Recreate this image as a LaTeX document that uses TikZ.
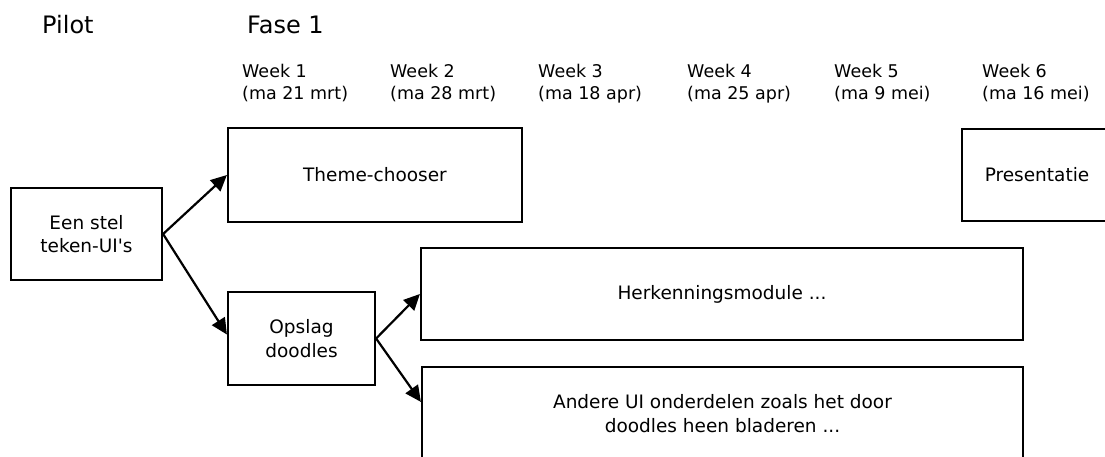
\documentclass[tikz,border=0pt]{standalone}
\usepackage{fontspec}
\setmainfont{DejaVu Sans}
\usetikzlibrary{arrows.meta}
\tikzset{
  box/.style={draw, line width=2.2pt, rectangle, inner sep=0pt, align=center,
    font=\fontsize{18.5}{23.3}\selectfont},
  arr/.style={line width=2.2pt, -{Triangle[length=16pt,width=15pt]}},
  week/.style={anchor=north west, inner sep=0pt, align=left,
    font=\fontsize{17.5}{22}\selectfont},
  head/.style={anchor=base west, inner sep=0pt, font=\fontsize{24}{28}\selectfont}
}
\begin{document}
\begin{tikzpicture}[x=1pt,y=-1pt]
\useasboundingbox (0,0) rectangle (1105,456);
\clip (0,0) rectangle (1105,456);
\node[head] (pilot) at (42,33) {Pilot};
\node[head] (fase) at (247,33) {Fase 1};
\node[week] (w1) at (242,63.5) {Week 1\\(ma 21 mrt)};
\node[week] (w2) at (390,63.5) {Week 2\\(ma 28 mrt)};
\node[week] (w3) at (538,63.5) {Week 3\\(ma 18 apr)};
\node[week] (w4) at (687,63.5) {Week 4\\(ma 25 apr)};
\node[week] (w5) at (834,63.5) {Week 5\\(ma 9 mei)};
\node[week] (w6) at (982,63.5) {Week 6\\(ma 16 mei)};
\node[box, minimum width=151pt, minimum height=92pt] (een) at (86.5,234) {Een stel\\teken-UI\textquotesingle s};
\node[box, minimum width=294pt, minimum height=94pt] (theme) at (375,175) {Theme-chooser};
\node[box, minimum width=147pt, minimum height=93pt] (opslag) at (301.5,338.5) {Opslag\\doodles};
\node[box, minimum width=602pt, minimum height=92pt] (herk) at (722,294) {Herkenningsmodule ...};
\node[box, minimum width=601pt, minimum height=93pt] (andere) at (722.5,413.5) {Andere UI onderdelen zoals het door\\doodles heen bladeren ...};
\node[box, minimum width=150pt, minimum height=92pt] (pres) at (1037,175) {Presentatie};
\coordinate (andin) at ([yshift=-36pt]andere.north west);
\coordinate (opin) at ([yshift=4pt]opslag.west);
\draw[arr] (een.east) -- (theme.west);
\draw[arr] (een.east) -- (opin);
\draw[arr] (opslag.east) -- (herk.west);
\draw[arr] (opslag.east) -- (andin);
\end{tikzpicture}
\end{document}
